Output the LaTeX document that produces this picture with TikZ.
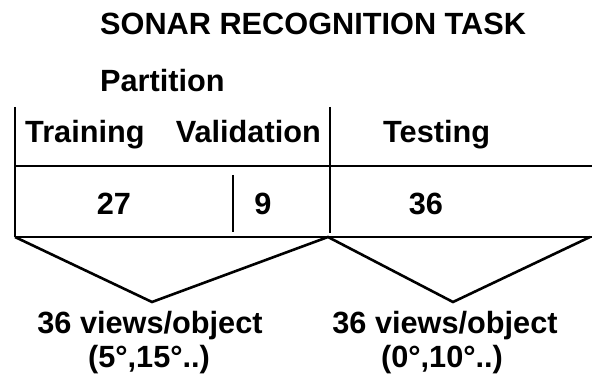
\documentclass[tikz,border=0pt]{standalone}
\usepackage{fontspec}
\setmainfont{Liberation Sans}
\begin{document}
\begin{tikzpicture}[x=1pt,y=-1pt,
  lbl/.style={inner sep=0pt,font=\fontsize{30.7}{36}\selectfont\bfseries},
  rule/.style={line width=2.6pt},
  fan/.style={line width=2.6pt,line join=miter}]
\useasboundingbox (0,0) rectangle (592,374);

% headings
\node[lbl,anchor=base west] (title) at (100,35) {SONAR RECOGNITION TASK};
\node[lbl,anchor=base west] (part) at (100,92) {Partition};

% column headings
\node[lbl,anchor=base west] (train) at (25,143) {Training};
\node[lbl,anchor=base east] (valid) at (321,143) {Validation};
\node[lbl,anchor=base west] (test) at (383,143) {Testing};

% counts
\node[lbl,anchor=base] (n27) at (114,215) {27};
\node[lbl,anchor=base] (n9) at (263,215) {9};
\node[lbl,anchor=base] (n36) at (426,215) {36};

% table frame
\coordinate (lt) at (15,107);
\coordinate (lb) at (15,237);
\coordinate (mt) at (330,107);
\coordinate (mb) at (330,233);
\coordinate (hl) at (15,166);
\coordinate (hr) at (592,166);
\coordinate (br) at (592,237);
\coordinate (st) at (233,175);
\coordinate (sb) at (233,232);
\draw[rule] (lt) -- (lb);
\draw[rule] (mt) -- (mb);
\draw[rule] (hl) -- (hr);
\draw[rule] (lb) -- (br);
\draw[rule] (st) -- (sb);

% fan-out to the view sets
\coordinate (v1) at (152,302);
\coordinate (pk) at (328,237);
\coordinate (v2) at (453,302);
\coordinate (re) at (590,237);
\draw[fan] (lb) -- (v1) -- (pk) -- (v2) -- (re);

% view-set labels
\node[lbl,anchor=base] (views1) at (150,333) {36 views/object};
\node[lbl,anchor=base] (ang1) at (149,367) {(5°,15°..)};
\node[lbl,anchor=base] (views2) at (445,333) {36 views/object};
\node[lbl,anchor=base] (ang2) at (442,367) {(0°,10°..)};
\end{tikzpicture}
\end{document}
